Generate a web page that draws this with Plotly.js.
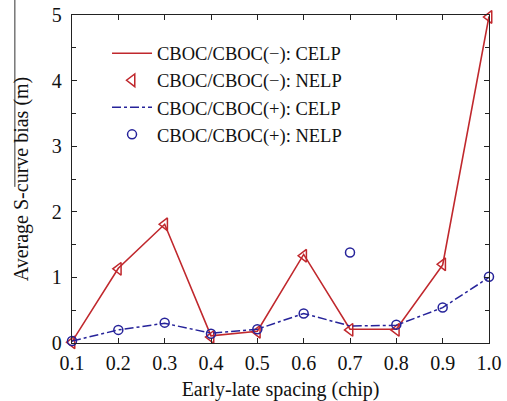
<!DOCTYPE html>
<html>
<head>
<meta charset="utf-8">
<script src="https://cdn.plot.ly/plotly-3.0.1.min.js"></script>
<style>
  html, body { margin: 0; padding: 0; background: #fff; }
  #chart { width: 507px; height: 401px; }
</style>
</head>
<body>
<div id="chart"></div>
<script>
// Early-late spacing (chip)
const spacing = [0.1, 0.2, 0.3, 0.4, 0.5, 0.6, 0.7, 0.8, 0.9, 1.0];
const spacingLabels = ['0.1', '0.2', '0.3', '0.4', '0.5', '0.6', '0.7', '0.8', '0.9', '1.0'];

// Average S-curve bias (m)
const celpMinus = [0.02, 1.14, 1.81, 0.11, 0.18, 1.35, 0.21, 0.21, 1.19, 4.98];
const nelpMinus = [0.01, 1.13, 1.81, 0.09, 0.17, 1.33, 0.20, 0.20, 1.20, 4.97];
const celpPlus  = [0.03, 0.20, 0.30, 0.15, 0.21, 0.45, 0.26, 0.27, 0.54, 1.00];
const nelpPlus  = [0.03, 0.20, 0.31, 0.14, 0.21, 0.45, 1.38, 0.28, 0.54, 1.01];

const red = '#c0282d';
const blue = '#26239a';
const serif = "'Liberation Serif', 'Times New Roman', serif";
const ink = '#111';

const traces = [
  {
    x: spacing, y: celpMinus, name: 'CBOC/CBOC(\u2212): CELP',
    mode: 'lines', line: { color: red, width: 1.6 }, cliponaxis: false
  },
  {
    x: spacing, y: nelpMinus, name: 'CBOC/CBOC(\u2212): NELP',
    mode: 'markers', cliponaxis: false,
    marker: { symbol: 'triangle-left-open', size: 11, color: red, line: { width: 1.5, color: red } }
  },
  {
    x: spacing, y: celpPlus, name: 'CBOC/CBOC(+): CELP',
    mode: 'lines', line: { color: blue, width: 1.5, dash: 'dashdot' }, cliponaxis: false
  },
  {
    x: spacing, y: nelpPlus, name: 'CBOC/CBOC(+): NELP',
    mode: 'markers', cliponaxis: false,
    marker: { symbol: 'circle-open', size: 9, color: blue, line: { width: 1.5, color: blue } }
  }
];

const axisCommon = {
  showline: true, linecolor: '#222', linewidth: 1.2, mirror: 'ticks',
  ticks: 'inside', ticklen: 5, tickcolor: '#222', tickwidth: 1,
  showgrid: false, zeroline: false,
  tickfont: { family: serif, size: 20, color: ink }
};

const layout = {
  width: 507, height: 401,
  margin: { l: 72, r: 18, t: 15, b: 58 },
  paper_bgcolor: '#fff', plot_bgcolor: '#fff',
  font: { family: serif, color: ink },
  showlegend: true,
  legend: {
    x: 0.084, y: 0.94, xanchor: 'left', yanchor: 'top',
    bgcolor: 'rgba(0,0,0,0)', borderwidth: 0, itemwidth: 40,
    font: { family: serif, size: 18.5, color: ink },
    tracegroupgap: 0
  },
  xaxis: Object.assign({}, axisCommon, {
    range: [0.1, 1.0],
    tickvals: spacing, ticktext: spacingLabels,
    ticklabelstandoff: 2,
    title: { text: 'Early-late spacing (chip)', font: { family: serif, size: 20, color: ink }, standoff: 9 }
  }),
  yaxis: Object.assign({}, axisCommon, {
    range: [0, 5], dtick: 1,
    ticklabelstandoff: 5,
    minor: { dtick: 0.5, ticks: 'inside', ticklen: 4, tickcolor: '#222', showgrid: false },
    title: { text: 'Average S-curve bias (m)', font: { family: serif, size: 20, color: ink }, standoff: 17 }
  }),
  shapes: [
    { type: 'line', xref: 'paper', yref: 'paper', x0: -0.137, x1: -0.137, y0: 1.05, y1: 0.476,
      line: { color: '#333', width: 1 } }
  ]
};

Plotly.newPlot('chart', traces, layout, { staticPlot: true, displayModeBar: false });
</script>
</body>
</html>
